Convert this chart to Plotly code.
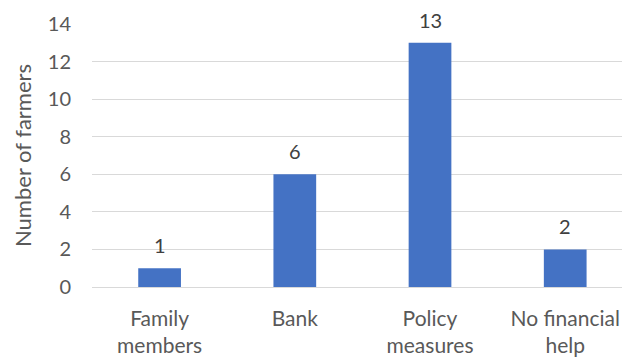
import plotly.graph_objects as go

# Sources of financial help reported by farmers
categories = ["Family members", "Bank", "Policy measures", "No financial help"]
tick_labels = ["Family<br>members", "Bank", "Policy<br>measures", "No financial<br>help"]
farmers = [1, 6, 13, 2]

y_ticks = [0, 2, 4, 6, 8, 10, 12, 14]

BAR_COLOR = "#4472C4"
GRID_COLOR = "#D9D9D9"
TICK_COLOR = "#595959"
LABEL_COLOR = "#404040"
FONT = "Lato, 'Liberation Sans', sans-serif"

fig = go.Figure()
fig.add_trace(go.Bar(
    x=categories,
    y=farmers,
    width=0.316,
    marker=dict(color=BAR_COLOR, line=dict(width=0)),
    hoverinfo="x+y",
))

# Value labels above each bar
for cat, val in zip(categories, farmers):
    fig.add_annotation(
        x=cat, y=val, text=str(val), showarrow=False,
        yanchor="bottom", yshift=9,
        font=dict(family=FONT, size=20, color=LABEL_COLOR),
    )

fig.update_layout(
    width=622, height=362,
    margin=dict(l=92, r=0, t=24, b=75),
    paper_bgcolor="white", plot_bgcolor="white",
    showlegend=False,
    font=dict(family=FONT, size=20, color=TICK_COLOR),
)
fig.update_xaxes(
    type="category",
    categoryorder="array", categoryarray=categories,
    tickvals=categories, ticktext=tick_labels,
    range=[-0.5, 3.42],
    showgrid=False, showline=False, zeroline=False,
    ticks="", ticklabelstandoff=17,
    tickfont=dict(family=FONT, size=21, color=TICK_COLOR),
)
fig.update_yaxes(
    range=[0, 14],
    tickvals=y_ticks,
    showgrid=True, gridcolor=GRID_COLOR, gridwidth=1,
    zeroline=True, zerolinecolor=GRID_COLOR, zerolinewidth=1,
    showline=False, ticks="", ticklabelstandoff=20,
    tickfont=dict(family=FONT, size=20, color=TICK_COLOR),
    title=dict(text="Number of farmers", standoff=10,
               font=dict(family=FONT, size=22, color=TICK_COLOR)),
)

fig.write_html("out.html")
